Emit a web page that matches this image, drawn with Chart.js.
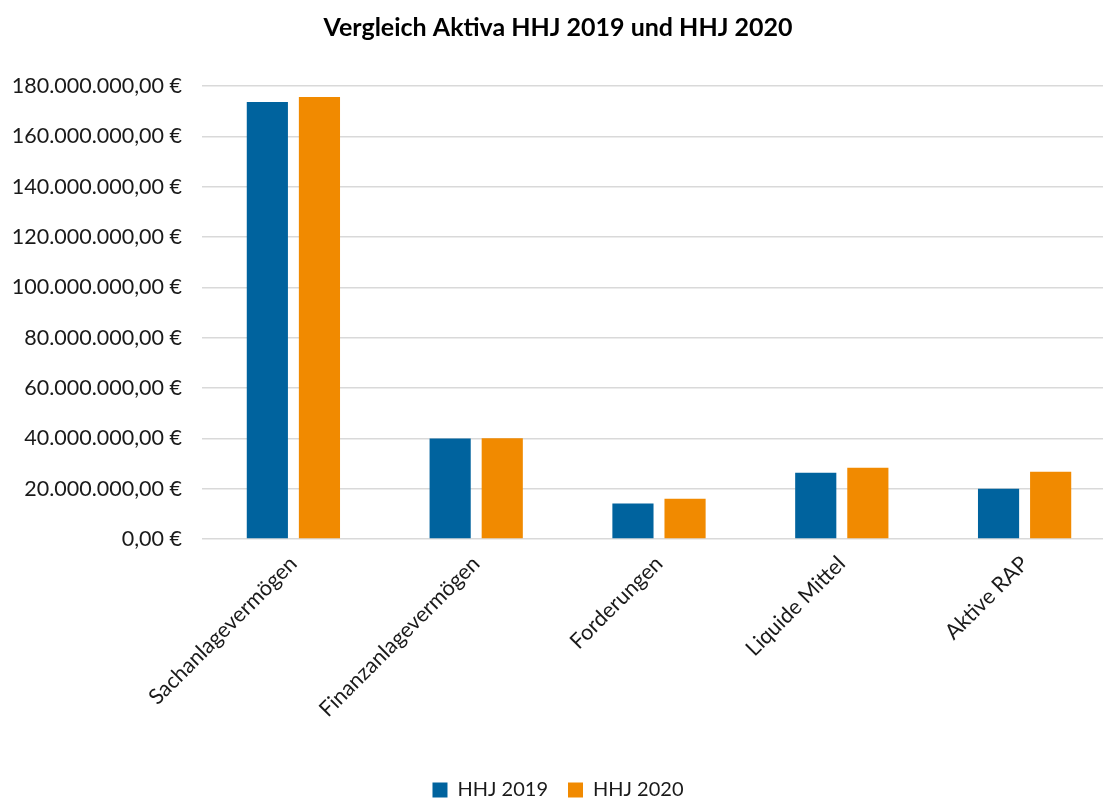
<!DOCTYPE html>
<html lang="de">
<head>
<meta charset="utf-8">
<title>Vergleich Aktiva HHJ 2019 und HHJ 2020</title>
<script src="https://cdn.jsdelivr.net/npm/chart.js@4.4.1/dist/chart.umd.min.js"></script>
<style>
    html, body { margin: 0; padding: 0; background: #fff; overflow: hidden; }
    #wrap { width: 1140px; height: 810px; }
</style>
</head>
<body>
<div id="wrap"><canvas id="chart"></canvas></div>
<script>
// Daten (Euro)
const categories = ['Sachanlagevermögen', 'Finanzanlagevermögen', 'Forderungen', 'Liquide Mittel', 'Aktive RAP'];
const seriesNames = ['HHJ 2019', 'HHJ 2020'];
const hhj2019 = [173600000, 39900000, 14100000, 26300000, 20000000];
const hhj2020 = [175600000, 40000000, 16000000, 28300000, 26700000];
const yTicks = [0, 20000000, 40000000, 60000000, 80000000, 100000000, 120000000, 140000000, 160000000, 180000000];

const fontFamily = 'Lato, "Open Sans", sans-serif';

function euro(v) {
    // 180000000 -> "180.000.000,00 €"
    let s = Math.round(v).toString().replace(/\B(?=(\d{3})+(?!\d))/g, '.');
    return s + ',00 €';
}

function initChart() {
    const ctx = document.getElementById('chart').getContext('2d');
    new Chart(ctx, {
        type: 'bar',
        data: {
            labels: categories,
            datasets: [
                { label: seriesNames[0], data: hhj2019, backgroundColor: '#00639e' },
                { label: seriesNames[1], data: hhj2020, backgroundColor: '#f18a00' }
            ]
        },
        options: {
            responsive: true,
            maintainAspectRatio: false,
            animation: false,
            categoryPercentage: 0.57,
            barPercentage: 0.79,
            layout: { padding: { left: 0, right: 24, top: 0, bottom: 0 } },
            plugins: {
                title: {
                    display: true,
                    text: 'Vergleich Aktiva HHJ 2019 und HHJ 2020',
                    color: '#000',
                    font: { family: fontFamily, size: 25, weight: 'bold' },
                    padding: { top: 13, bottom: 43 }
                },
                legend: {
                    position: 'bottom',
                    labels: {
                        color: '#1a1a1a',
                        font: { family: fontFamily, size: 20 },
                        boxWidth: 15,
                        boxHeight: 15,
                        padding: 20
                    }
                },
                tooltip: { enabled: false }
            },
            scales: {
                x: {
                    grid: { display: false },
                    border: { display: false },
                    ticks: {
                        color: '#1a1a1a',
                        font: { family: fontFamily, size: 21.5 },
                        minRotation: 45,
                        maxRotation: 45,
                        padding: 4
                    },
                    afterFit: s => { s.height = 221; }
                },
                y: {
                    min: 0,
                    max: 180000000,
                    afterBuildTicks: s => { s.ticks = yTicks.map(v => ({ value: v })); },
                    grid: { color: '#d9d9d9', lineWidth: 1.5, drawTicks: false },
                    border: { display: false },
                    ticks: {
                        color: '#1a1a1a',
                        font: { family: fontFamily, size: 21.5 },
                        padding: 20,
                        callback: v => euro(v)
                    },
                    afterFit: s => { s.width = 202; }
                }
            }
        }
    });
}

initChart();
</script>
</body>
</html>
